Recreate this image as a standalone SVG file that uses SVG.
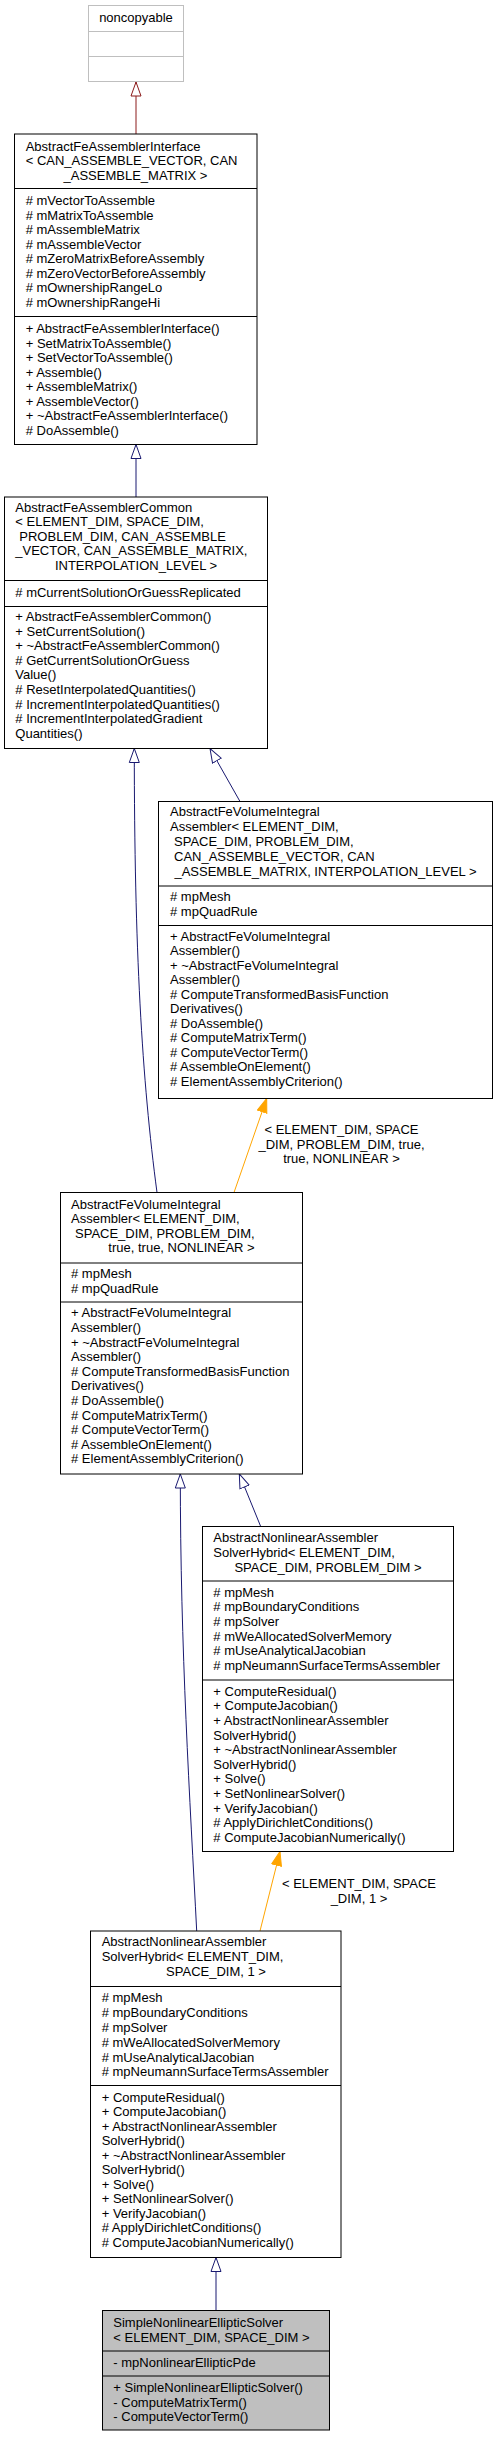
<svg xmlns="http://www.w3.org/2000/svg" width="497" height="2437" viewBox="0 0 497 2437">
<style>
text{font-family:"Liberation Sans",Arial,sans-serif;font-size:13px;fill:#000}
.m{text-anchor:middle}
.box{fill:#fff;stroke:#000;stroke-width:1}
.gbox{fill:#bfbfbf;stroke:#000;stroke-width:1}
.nbox{fill:#fff;stroke:#bfbfbf;stroke-width:1}
.div{stroke:#000;stroke-width:1}
.ndiv{stroke:#bfbfbf;stroke-width:1}
.pub{fill:none;stroke:#191970;stroke-width:1;marker-end:url(#hb)}
.prv{fill:none;stroke:#8b1a1a;stroke-width:1;marker-end:url(#hr)}
.tpl{fill:none;stroke:#ffa500;stroke-width:1;marker-end:url(#fo)}
</style>
<defs>
<marker id="hb" markerUnits="userSpaceOnUse" markerWidth="16" markerHeight="12" refX="14.5" refY="6" orient="auto" viewBox="0 0 16 12"><path d="M0.5,1 L14.5,6 L0.5,11 Z" fill="#fff" stroke="#191970" stroke-width="1"/></marker>
<marker id="hr" markerUnits="userSpaceOnUse" markerWidth="16" markerHeight="12" refX="14.5" refY="6" orient="auto" viewBox="0 0 16 12"><path d="M0.5,1 L14.5,6 L0.5,11 Z" fill="#fff" stroke="#8b1a1a" stroke-width="1"/></marker>
<marker id="fo" markerUnits="userSpaceOnUse" markerWidth="16" markerHeight="12" refX="14.5" refY="6" orient="auto" viewBox="0 0 16 12"><path d="M0.5,1 L14.5,6 L0.5,11 Z" fill="#ffa500" stroke="#ffa500" stroke-width="1"/></marker>
</defs>

<g id="connectors">
<path class="prv" d="M136,134 L136,82"/>
<path class="pub" d="M136,497 L136,444.5"/>
<path class="pub" d="M157,1192.5 C142,1080 134.3,950 134.3,748.5"/>
<path class="pub" d="M240,801.5 L210,748.5"/>
<path class="tpl" d="M234,1192.5 L266.7,1098.5"/>
<text class="m" x="341.5" y="1134">&lt; ELEMENT_DIM, SPACE</text>
<text class="m" x="341.5" y="1148.6">_DIM, PROBLEM_DIM, true,</text>
<text class="m" x="341.5" y="1163.2">true, NONLINEAR &gt;</text>
<path class="pub" d="M196.7,1931 C190,1800 180.3,1650 180.3,1474"/>
<path class="pub" d="M260.7,1526.5 L239.3,1474"/>
<path class="tpl" d="M260,1931 L280,1851.5"/>
<text class="m" x="359" y="1888">&lt; ELEMENT_DIM, SPACE</text>
<text class="m" x="359" y="1902.5">_DIM, 1 &gt;</text>
<path class="pub" d="M216,2310.5 L216,2257.5"/>
</g>

<g id="noncopyable">
<rect class="nbox" x="88.5" y="5.5" width="95" height="76"/>
<line class="ndiv" x1="88.5" y1="31.5" x2="183.5" y2="31.5"/>
<line class="ndiv" x1="88.5" y1="56.5" x2="183.5" y2="56.5"/>
<text class="m" x="136" y="22">noncopyable</text>
</g>

<g id="AbstractFeAssemblerInterface">
<rect class="box" x="14.5" y="134" width="242.5" height="310.5"/>
<line class="div" x1="14.5" y1="188.5" x2="257" y2="188.5"/>
<line class="div" x1="14.5" y1="316.5" x2="257" y2="316.5"/>
<text x="25.7" y="150.5">AbstractFeAssemblerInterface</text>
<text x="25.7" y="165">&lt; CAN_ASSEMBLE_VECTOR, CAN</text>
<text class="m" x="135.5" y="179.5">_ASSEMBLE_MATRIX &gt;</text>
<text x="25.7" y="205"># mVectorToAssemble</text>
<text x="25.7" y="219.5"># mMatrixToAssemble</text>
<text x="25.7" y="234"># mAssembleMatrix</text>
<text x="25.7" y="248.5"># mAssembleVector</text>
<text x="25.7" y="263"># mZeroMatrixBeforeAssembly</text>
<text x="25.7" y="277.5"># mZeroVectorBeforeAssembly</text>
<text x="25.7" y="292"># mOwnershipRangeLo</text>
<text x="25.7" y="306.5"># mOwnershipRangeHi</text>
<text x="25.7" y="333">+ AbstractFeAssemblerInterface()</text>
<text x="25.7" y="347.5">+ SetMatrixToAssemble()</text>
<text x="25.7" y="362">+ SetVectorToAssemble()</text>
<text x="25.7" y="376.5">+ Assemble()</text>
<text x="25.7" y="391">+ AssembleMatrix()</text>
<text x="25.7" y="405.5">+ AssembleVector()</text>
<text x="25.7" y="420">+ ~AbstractFeAssemblerInterface()</text>
<text x="25.7" y="434.5"># DoAssemble()</text>
</g>

<g id="AbstractFeAssemblerCommon">
<rect class="box" x="4.5" y="497" width="263" height="251.5"/>
<line class="div" x1="4.5" y1="580.5" x2="267.5" y2="580.5"/>
<line class="div" x1="4.5" y1="606.5" x2="267.5" y2="606.5"/>
<text x="15.3" y="511.5">AbstractFeAssemblerCommon</text>
<text x="15.3" y="526">&lt; ELEMENT_DIM, SPACE_DIM,</text>
<text x="19.3" y="540.6">PROBLEM_DIM, CAN_ASSEMBLE</text>
<text x="15.3" y="555.2">_VECTOR, CAN_ASSEMBLE_MATRIX,</text>
<text class="m" x="136" y="569.8">INTERPOLATION_LEVEL &gt;</text>
<text x="15.3" y="596.5"># mCurrentSolutionOrGuessReplicated</text>
<text x="15.3" y="621">+ AbstractFeAssemblerCommon()</text>
<text x="15.3" y="635.6">+ SetCurrentSolution()</text>
<text x="15.3" y="650.2">+ ~AbstractFeAssemblerCommon()</text>
<text x="15.3" y="664.8"># GetCurrentSolutionOrGuess</text>
<text x="15.3" y="679.4">Value()</text>
<text x="15.3" y="694"># ResetInterpolatedQuantities()</text>
<text x="15.3" y="708.6"># IncrementInterpolatedQuantities()</text>
<text x="15.3" y="723.2"># IncrementInterpolatedGradient</text>
<text x="15.3" y="737.8">Quantities()</text>
</g>

<g id="AbstractFeVolumeIntegralAssembler">
<rect class="box" x="158.5" y="801.5" width="334" height="297"/>
<line class="div" x1="158.5" y1="886" x2="492.5" y2="886"/>
<line class="div" x1="158.5" y1="925.5" x2="492.5" y2="925.5"/>
<text x="170" y="815.5">AbstractFeVolumeIntegral</text>
<text x="170" y="830.5">Assembler&lt; ELEMENT_DIM,</text>
<text x="174" y="845.5">SPACE_DIM, PROBLEM_DIM,</text>
<text x="174" y="860.5">CAN_ASSEMBLE_VECTOR, CAN</text>
<text class="m" x="325.5" y="875.5">_ASSEMBLE_MATRIX, INTERPOLATION_LEVEL &gt;</text>
<text x="170" y="900.5"># mpMesh</text>
<text x="170" y="915.5"># mpQuadRule</text>
<text x="170" y="940.5">+ AbstractFeVolumeIntegral</text>
<text x="170" y="955">Assembler()</text>
<text x="170" y="969.5">+ ~AbstractFeVolumeIntegral</text>
<text x="170" y="984">Assembler()</text>
<text x="170" y="998.5"># ComputeTransformedBasisFunction</text>
<text x="170" y="1013">Derivatives()</text>
<text x="170" y="1027.5"># DoAssemble()</text>
<text x="170" y="1042"># ComputeMatrixTerm()</text>
<text x="170" y="1056.5"># ComputeVectorTerm()</text>
<text x="170" y="1071"># AssembleOnElement()</text>
<text x="170" y="1085.5"># ElementAssemblyCriterion()</text>
</g>

<g id="AbstractFeVolumeIntegralAssemblerNonlinear">
<rect class="box" x="60.5" y="1192.5" width="242" height="281.5"/>
<line class="div" x1="60.5" y1="1263" x2="302.5" y2="1263"/>
<line class="div" x1="60.5" y1="1302" x2="302.5" y2="1302"/>
<text x="71" y="1208.8">AbstractFeVolumeIntegral</text>
<text x="71" y="1223.3">Assembler&lt; ELEMENT_DIM,</text>
<text x="75" y="1237.8">SPACE_DIM, PROBLEM_DIM,</text>
<text class="m" x="181.5" y="1252.3">true, true, NONLINEAR &gt;</text>
<text x="71" y="1278"># mpMesh</text>
<text x="71" y="1292.5"># mpQuadRule</text>
<text x="71" y="1317.3">+ AbstractFeVolumeIntegral</text>
<text x="71" y="1331.9">Assembler()</text>
<text x="71" y="1346.5">+ ~AbstractFeVolumeIntegral</text>
<text x="71" y="1361.1">Assembler()</text>
<text x="71" y="1375.7"># ComputeTransformedBasisFunction</text>
<text x="71" y="1390.3">Derivatives()</text>
<text x="71" y="1404.9"># DoAssemble()</text>
<text x="71" y="1419.5"># ComputeMatrixTerm()</text>
<text x="71" y="1434.1"># ComputeVectorTerm()</text>
<text x="71" y="1448.7"># AssembleOnElement()</text>
<text x="71" y="1463.3"># ElementAssemblyCriterion()</text>
</g>

<g id="AbstractNonlinearAssemblerSolverHybrid">
<rect class="box" x="202.5" y="1526.5" width="251" height="325"/>
<line class="div" x1="202.5" y1="1581" x2="453.5" y2="1581"/>
<line class="div" x1="202.5" y1="1680" x2="453.5" y2="1680"/>
<text x="213.3" y="1542">AbstractNonlinearAssembler</text>
<text x="213.3" y="1557">SolverHybrid&lt; ELEMENT_DIM,</text>
<text class="m" x="328" y="1572">SPACE_DIM, PROBLEM_DIM &gt;</text>
<text x="213.3" y="1596.5"># mpMesh</text>
<text x="213.3" y="1611.2"># mpBoundaryConditions</text>
<text x="213.3" y="1625.9"># mpSolver</text>
<text x="213.3" y="1640.6"># mWeAllocatedSolverMemory</text>
<text x="213.3" y="1655.3"># mUseAnalyticalJacobian</text>
<text x="213.3" y="1670"># mpNeumannSurfaceTermsAssembler</text>
<text x="213.3" y="1695.5">+ ComputeResidual()</text>
<text x="213.3" y="1710.2">+ ComputeJacobian()</text>
<text x="213.3" y="1724.8">+ AbstractNonlinearAssembler</text>
<text x="213.3" y="1739.5">SolverHybrid()</text>
<text x="213.3" y="1754.1">+ ~AbstractNonlinearAssembler</text>
<text x="213.3" y="1768.8">SolverHybrid()</text>
<text x="213.3" y="1783.4">+ Solve()</text>
<text x="213.3" y="1798">+ SetNonlinearSolver()</text>
<text x="213.3" y="1812.7">+ VerifyJacobian()</text>
<text x="213.3" y="1827.3"># ApplyDirichletConditions()</text>
<text x="213.3" y="1842"># ComputeJacobianNumerically()</text>
</g>

<g id="AbstractNonlinearAssemblerSolverHybrid1">
<rect class="box" x="90.5" y="1931" width="250.5" height="326.5"/>
<line class="div" x1="90.5" y1="1986.5" x2="341" y2="1986.5"/>
<line class="div" x1="90.5" y1="2085.5" x2="341" y2="2085.5"/>
<text x="101.7" y="1946">AbstractNonlinearAssembler</text>
<text x="101.7" y="1961">SolverHybrid&lt; ELEMENT_DIM,</text>
<text class="m" x="216" y="1975.5">SPACE_DIM, 1 &gt;</text>
<text x="101.7" y="2002"># mpMesh</text>
<text x="101.7" y="2017"># mpBoundaryConditions</text>
<text x="101.7" y="2032"># mpSolver</text>
<text x="101.7" y="2047"># mWeAllocatedSolverMemory</text>
<text x="101.7" y="2061.5"># mUseAnalyticalJacobian</text>
<text x="101.7" y="2076"># mpNeumannSurfaceTermsAssembler</text>
<text x="101.7" y="2101.5">+ ComputeResidual()</text>
<text x="101.7" y="2116">+ ComputeJacobian()</text>
<text x="101.7" y="2130.6">+ AbstractNonlinearAssembler</text>
<text x="101.7" y="2145.1">SolverHybrid()</text>
<text x="101.7" y="2159.7">+ ~AbstractNonlinearAssembler</text>
<text x="101.7" y="2174.2">SolverHybrid()</text>
<text x="101.7" y="2188.8">+ Solve()</text>
<text x="101.7" y="2203.3">+ SetNonlinearSolver()</text>
<text x="101.7" y="2217.9">+ VerifyJacobian()</text>
<text x="101.7" y="2232.4"># ApplyDirichletConditions()</text>
<text x="101.7" y="2247"># ComputeJacobianNumerically()</text>
</g>

<g id="SimpleNonlinearEllipticSolver">
<rect class="gbox" x="102.5" y="2310.5" width="227" height="119.5"/>
<line class="div" x1="102.5" y1="2351" x2="329.5" y2="2351"/>
<line class="div" x1="102.5" y1="2376" x2="329.5" y2="2376"/>
<text x="113.3" y="2327">SimpleNonlinearEllipticSolver</text>
<text x="113.3" y="2341.5">&lt; ELEMENT_DIM, SPACE_DIM &gt;</text>
<text x="113.3" y="2367">- mpNonlinearEllipticPde</text>
<text x="113.3" y="2392">+ SimpleNonlinearEllipticSolver()</text>
<text x="113.3" y="2406.5">- ComputeMatrixTerm()</text>
<text x="113.3" y="2421">- ComputeVectorTerm()</text>
</g>
</svg>
